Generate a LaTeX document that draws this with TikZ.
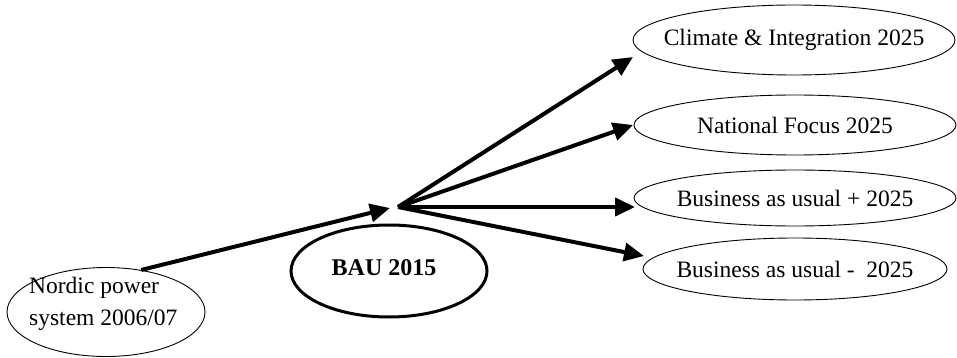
\documentclass[tikz,border=0pt]{standalone}
\usepackage{fontspec}
\setmainfont{Liberation Serif}
\usetikzlibrary{shapes.geometric,arrows.meta}
\begin{document}
\begin{tikzpicture}[x=1pt,y=-1pt,
  oval/.style={draw,ellipse,line width=0.9pt,inner sep=0pt},
  lbl/.style={font=\fontsize{23.5}{32}\selectfont,inner sep=0pt},
  arr/.style={line width=4pt,-{Triangle[length=20pt,width=18pt]}}]
\useasboundingbox (0,0) rectangle (957,358);
% nodes
\node[oval,minimum width=198pt,minimum height=89pt] (nordic) at (106,312) {};
\node[lbl,align=left,anchor=west] (nordictxt) at (29,304) {Nordic power\\system 2006/07};
\node[oval,line width=3pt,minimum width=196pt,minimum height=92pt] (bau) at (389,271) {};
\node[lbl,font=\fontsize{24}{32}\selectfont\bfseries] (bautxt) at (384,268) {BAU 2015};
\node[oval,minimum width=322pt,minimum height=70pt] (clim) at (794,40) {};
\node[lbl] (climtxt) at (794,40) {Climate \& Integration 2025};
\node[oval,minimum width=322pt,minimum height=60pt] (nat) at (795,125) {};
\node[lbl] (nattxt) at (795,125) {National Focus 2025};
\node[oval,minimum width=322pt,minimum height=56pt] (bup) at (795,198) {};
\node[lbl] (buptxt) at (795,198) {Business as usual + 2025};
\node[oval,minimum width=304pt,minimum height=62pt] (bdn) at (795,269) {};
\node[lbl] (bdntxt) at (795,269) {Business as usual -\ \ 2025};
% connector points
\coordinate (hubin) at (390,208);
\coordinate (hub) at (398,207);
\coordinate (tclim) at (633,57);
\coordinate (tnat) at (633,125);
\coordinate (tbup) at (635,207);
\coordinate (tbdn) at (644,256);
% connectors
\draw[arr] (nordic.50) -- (hubin);
\draw[arr] (hub) -- (tclim);
\draw[arr] (hub) -- (tnat);
\draw[arr] (hub) -- (tbup);
\draw[arr] (hub) -- (tbdn);
\end{tikzpicture}
\end{document}
